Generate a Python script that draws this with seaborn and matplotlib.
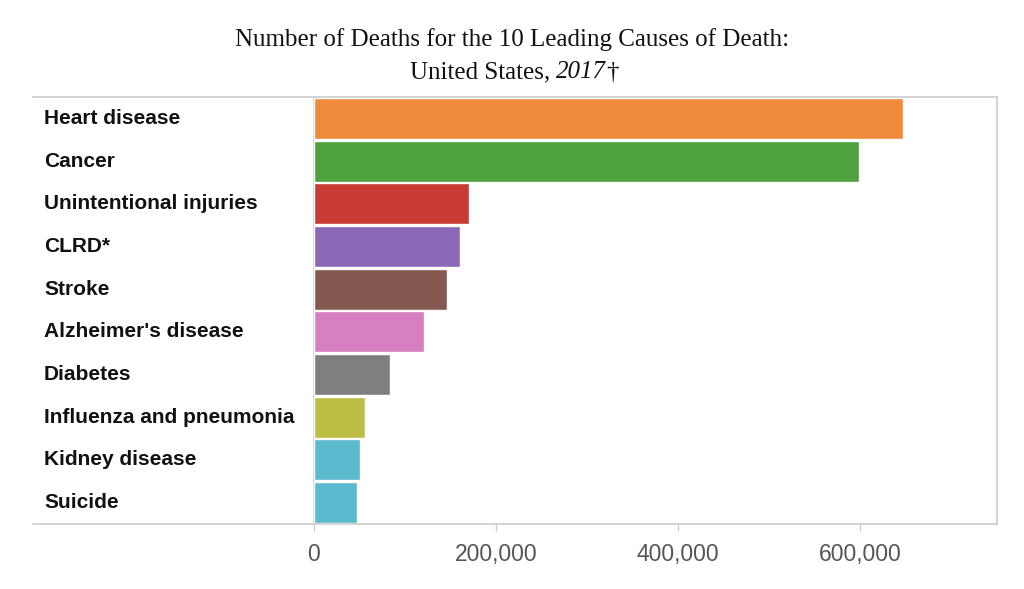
import matplotlib
matplotlib.use('Agg')
import matplotlib.pyplot as plt
import matplotlib.transforms as mtransforms
import seaborn as sns
import pandas as pd

# data
causes = ['Heart disease', 'Cancer', 'Unintentional injuries', 'CLRD*', 'Stroke',
          "Alzheimer's disease", 'Diabetes', 'Influenza and pneumonia',
          'Kidney disease', 'Suicide']
deaths = [647457, 599108, 169936, 160201, 146383, 121404, 83564, 55672, 50633, 47173]
bar_colors = ['#EE8A3A', '#4FA03F', '#C73B34', '#8C69B8', '#85594F',
              '#D77FC0', '#7F7F7F', '#BDBC45', '#5BBACD', '#5BBACD']
x_ticks = [0, 200000, 400000, 600000]

df = pd.DataFrame({'cause': causes, 'deaths': deaths})

sns.set_style('white')
plt.rcParams['font.family'] = ['Liberation Sans', 'DejaVu Sans']

fig = plt.figure(figsize=(10.24, 5.89), dpi=100)
ax = fig.add_axes([33 / 1024, 65 / 589, 964 / 1024, 427 / 589])

sns.barplot(data=df, y='cause', x='deaths', hue='cause', palette=bar_colors,
            orient='h', width=0.96, legend=False, saturation=1, ax=ax)

# zero sits at x=314, 600,000 at x=860
px_per_unit = 546 / 600000
ax.set_xlim(-(314 - 33) / px_per_unit, (997 - 314) / px_per_unit)
ax.set_ylim(9.5, -0.5)

ax.axvline(0, color='#cccccc', lw=1.2, zorder=0)
ax.set_xticks(x_ticks)
ax.set_xticklabels([f'{v:,}' for v in x_ticks], fontsize=16.5, color='#555555')
ax.tick_params(axis='x', length=5, width=1, color='#cccccc', pad=9, bottom=True)
ax.set_yticks([])
ax.set_xlabel('')
ax.set_ylabel('')

for side in ['top', 'bottom', 'right']:
    ax.spines[side].set_color('#cccccc')
    ax.spines[side].set_linewidth(1.2)
ax.spines['left'].set_visible(False)

trans = mtransforms.blended_transform_factory(ax.transAxes, ax.transData)
for i, c in enumerate(causes):
    ax.text(11 / 964, i, c, transform=trans, ha='left', va='center',
            fontsize=15, fontweight='bold', color='#111111')

# title, second line has an italic year
fig.text(512 / 1024, 1 - 40 / 589, 'Number of Deaths for the 10 Leading Causes of Death:',
         ha='center', va='center', fontsize=18, family='Liberation Serif', color='#111111')
parts = [('United States, ', 'normal'), ('2017', 'italic'), ('\u2020', 'normal')]
texts = [fig.text(0, 1 - 72 / 589, s, ha='left', va='center', fontsize=18,
                  family='Liberation Serif', style=st, color='#111111') for s, st in parts]
fig.canvas.draw()
r = fig.canvas.get_renderer()
widths = [t.get_window_extent(r).width for t in texts]
x0 = 514 - sum(widths) / 2
for t, w in zip(texts, widths):
    t.set_x(x0 / 1024)
    x0 += w

fig.savefig('out.png', dpi=100)
